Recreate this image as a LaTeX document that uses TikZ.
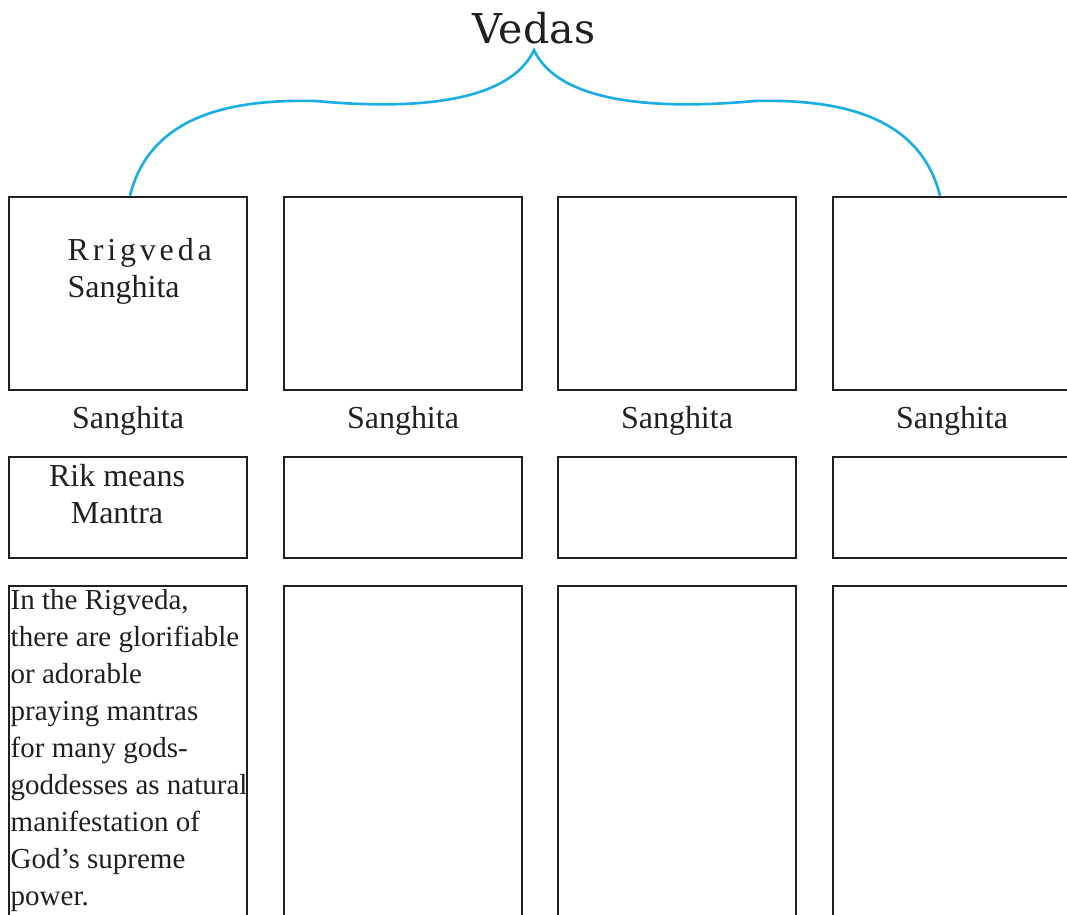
\documentclass[tikz,border=0pt]{standalone}
\usepackage{fontspec}
\setmainfont{Liberation Serif}
\newfontfamily\vedafont{DejaVu Serif}
\definecolor{bracecyan}{HTML}{1BAEE6}
\definecolor{boxgray}{HTML}{231F20}
\begin{document}
\begin{tikzpicture}[
  box/.style={draw=boxgray, line width=0.7pt, minimum width=2.38cm, inner sep=0pt},
  toprow/.style={box, minimum height=1.93cm},
  midrow/.style={box, minimum height=1.01cm},
  lowrow/.style={box, minimum height=3.44cm},
  lbl/.style={font=\fontsize{9.1}{10.6}\selectfont, inner sep=0pt, text=boxgray},
  para/.style={font=\fontsize{8.25}{10.56}\selectfont, inner sep=0pt, text=boxgray, align=left},
  brace/.style={draw=bracecyan, line width=0.75pt}]
\useasboundingbox (0,0) rectangle (10.67,9.15);
\node[anchor=base, font=\vedafont\fontsize{11.7}{14}\selectfont, text=boxgray, inner sep=0pt] at (5.34,8.71) (vedas) {Vedas};
% boxes
\node[toprow] at (1.28,6.215) (r1c1) {}; \node[toprow] at (4.03,6.215) (r1c2) {};
\node[toprow] at (6.77,6.215) (r1c3) {}; \node[toprow] at (9.52,6.215) (r1c4) {};
\node[midrow] at (1.28,4.075) (r2c1) {}; \node[midrow] at (4.03,4.075) (r2c2) {};
\node[midrow] at (6.77,4.075) (r2c3) {}; \node[midrow] at (9.52,4.075) (r2c4) {};
\node[lowrow] at (1.28,1.57) (r3c1) {}; \node[lowrow] at (4.03,1.57) (r3c2) {};
\node[lowrow] at (6.77,1.57) (r3c3) {}; \node[lowrow] at (9.52,1.57) (r3c4) {};
% labels (base = last line)
\node[lbl, anchor=base west, align=left] at (0.67,6.17) (rig) {{\addfontfeature{LetterSpace=12}Rrigveda}\\Sanghita};
\node[lbl, anchor=base] at (1.28,4.86) (s1) {Sanghita}; \node[lbl, anchor=base] at (4.03,4.86) (s2) {Sanghita};
\node[lbl, anchor=base] at (6.77,4.86) (s3) {Sanghita}; \node[lbl, anchor=base] at (9.52,4.86) (s4) {Sanghita};
\node[lbl, anchor=base, align=center] at (1.17,3.91) (rik) {Rik means\\Mantra};
\node[para, anchor=base west] at (0.10,0.09) (rigtext) {In the Rigveda,\\there are glorifiable\\or adorable\\praying mantras\\for many gods-\\goddesses as natural\\manifestation of\\God’s supreme\\power.};
% brace
\coordinate (tip) at (5.34,8.65); \coordinate (hl) at (3.15,8.14); \coordinate (hr) at (7.55,8.14);
\draw[brace] ([xshift=0.02cm]r1c1.north) .. controls +(0.2,0.8) and +(-0.85,0.02) .. (hl)
  .. controls +(0.67,-0.06) and +(-0.29,-0.62) .. (tip)
  .. controls +(0.29,-0.62) and +(-0.67,-0.06) .. (hr)
  .. controls +(0.85,0.02) and +(-0.2,0.8) .. ([xshift=-0.12cm]r1c4.north);
\end{tikzpicture}
\end{document}
